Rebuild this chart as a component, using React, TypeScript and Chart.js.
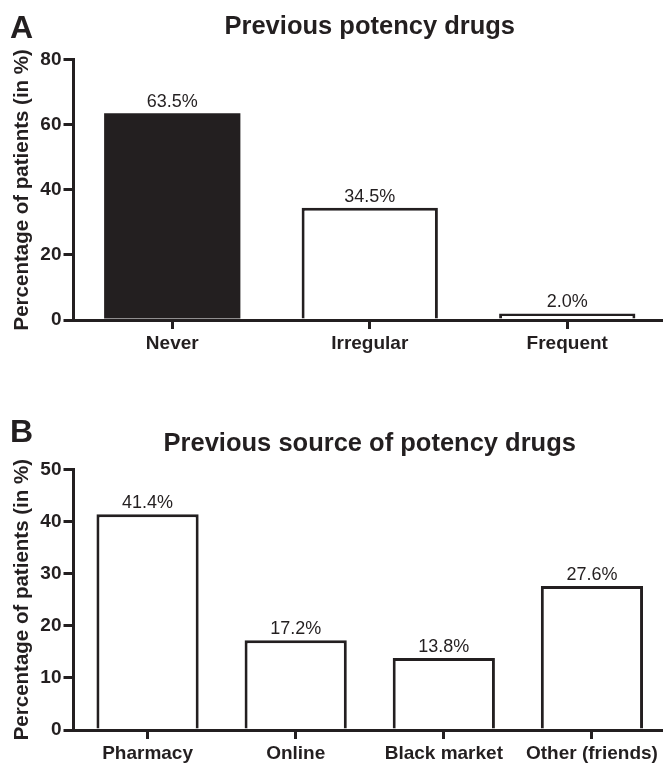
import React, { useEffect, useRef } from 'react';
import { Chart, registerables } from 'chart.js';

Chart.register(...registerables);

const INK = '#231f20';
const FONT = "'Liberation Sans', Arial, Helvetica, sans-serif";

// Panel A
const usageTitle = 'Previous potency drugs';
const usageCategories = ['Never', 'Irregular', 'Frequent'];
const usageValues = [63.5, 34.5, 2.0];
const usageFills = [INK, '#ffffff', '#ffffff'];
const usageBorders = [0, 3, 3];
const usageTicks = [0, 20, 40, 60, 80];

// Panel B
const sourceTitle = 'Previous source of potency drugs';
const sourceCategories = ['Pharmacy', 'Online', 'Black market', 'Other (friends)'];
const sourceValues = [41.4, 17.2, 13.8, 27.6];
const sourceFills = ['#ffffff', '#ffffff', '#ffffff', '#ffffff'];
const sourceBorders = [3, 3, 3, 3];
const sourceTicks = [0, 10, 20, 30, 40, 50];

const yAxisTitle = 'Percentage of patients (in %)';

const valueLabels = {
  id: 'valueLabels',
  afterDatasetsDraw(chart: any) {
    const ctx = chart.ctx;
    const meta = chart.getDatasetMeta(0);
    const data = chart.data.datasets[0].data;
    ctx.save();
    ctx.font = `18px ${FONT}`;
    ctx.fillStyle = INK;
    ctx.textAlign = 'center';
    ctx.textBaseline = 'alphabetic';
    meta.data.forEach((el: any, i: number) => {
      ctx.fillText(Number(data[i]).toFixed(1) + '%', el.x, el.y - 6);
    });
    ctx.restore();
  },
};

type PanelProps = {
  cats: string[];
  vals: number[];
  fills: string[];
  borders: number[];
  ticks: number[];
  title: string;
  top: number;
  height: number;
  titlePadTop: number;
  titlePadBottom: number;
  xAxisHeight: number;
};

const CANVAS_W = 672;

function BarPanel(p: PanelProps) {
  const ref = useRef<HTMLCanvasElement | null>(null);
  useEffect(() => {
    if (!ref.current) return;
    const step = p.ticks[1] - p.ticks[0];
    const chart = new Chart(ref.current, {
      type: 'bar',
      data: {
        labels: p.cats,
        datasets: [
          {
            data: p.vals,
            backgroundColor: p.fills,
            borderColor: INK,
            borderWidth: p.borders,
            borderSkipped: 'start',
            barPercentage: 0.69,
            categoryPercentage: 1,
          },
        ],
      },
      options: {
        responsive: false,
        animation: false,
        devicePixelRatio: 1,
        layout: { padding: { left: 0, right: CANVAS_W - 666, top: 0, bottom: 0 } },
        plugins: {
          legend: { display: false },
          tooltip: { enabled: false },
          title: {
            display: true,
            text: p.title,
            fullSize: false,
            color: INK,
            font: { family: FONT, size: 25.5, weight: 'bold', lineHeight: 1.2 },
            padding: { top: p.titlePadTop, bottom: p.titlePadBottom },
          },
        },
        scales: {
          x: {
            type: 'category',
            offset: true,
            grid: {
              display: true,
              offset: false,
              drawOnChartArea: false,
              drawTicks: true,
              tickLength: 9,
              lineWidth: 3,
              color: INK,
              tickColor: INK,
            },
            border: { display: true, color: INK, width: 3, z: 1 },
            ticks: {
              color: INK,
              padding: 3.5,
              maxRotation: 0,
              autoSkip: false,
              font: { family: FONT, size: 19, weight: 'bold' },
            },
            afterFit: (scale: any) => {
              scale.height = p.xAxisHeight;
            },
          },
          y: {
            type: 'linear',
            min: p.ticks[0],
            max: p.ticks[p.ticks.length - 1],
            grid: {
              display: true,
              drawOnChartArea: false,
              drawTicks: true,
              tickLength: 10,
              lineWidth: 3,
              color: INK,
              tickColor: INK,
            },
            border: { display: true, color: INK, width: 3, z: 1 },
            ticks: {
              stepSize: step,
              color: INK,
              padding: 2,
              font: { family: FONT, size: 19, weight: 'bold' },
            },
            title: {
              display: true,
              text: yAxisTitle,
              color: INK,
              font: { family: FONT, size: 20.5, weight: 'bold', lineHeight: 1.2 },
              padding: { top: 10, bottom: 0 },
            },
            afterFit: (scale: any) => {
              scale.width = 73.5;
            },
          },
        },
      },
      plugins: [valueLabels],
    } as any);
    return () => chart.destroy();
  }, []);
  return (
    <canvas
      ref={ref}
      width={CANVAS_W}
      height={p.height}
      style={{
        position: 'absolute',
        left: 0,
        top: p.top,
        width: CANVAS_W,
        height: p.height,
        display: 'block',
      }}
    />
  );
}

const letterStyle: React.CSSProperties = {
  position: 'absolute',
  left: 10,
  fontFamily: FONT,
  fontWeight: 'bold',
  fontSize: 32,
  lineHeight: '32px',
  color: INK,
};

export default function App() {
  return (
    <div
      style={{
        position: 'absolute',
        left: 0,
        top: 0,
        width: 663,
        height: 764,
        overflow: 'hidden',
        background: '#ffffff',
      }}
    >
      <BarPanel
        cats={usageCategories}
        vals={usageValues}
        fills={usageFills}
        borders={usageBorders}
        ticks={usageTicks}
        title={usageTitle}
        top={0}
        height={362}
        titlePadTop={12}
        titlePadBottom={17}
        xAxisHeight={42}
      />
      <BarPanel
        cats={sourceCategories}
        vals={sourceValues}
        fills={sourceFills}
        borders={sourceBorders}
        ticks={sourceTicks}
        title={sourceTitle}
        top={380}
        height={384}
        titlePadTop={49}
        titlePadBottom={9.7}
        xAxisHeight={34}
      />
      <div style={{ ...letterStyle, top: 11 }}>A</div>
      <div style={{ ...letterStyle, top: 415 }}>B</div>
    </div>
  );
}
